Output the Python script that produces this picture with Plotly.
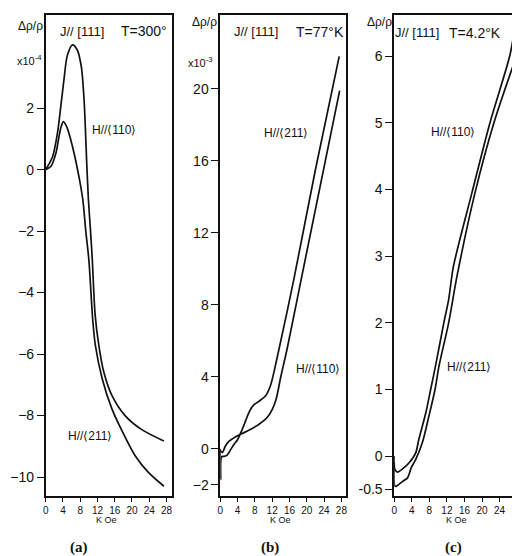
import plotly.graph_objects as go

# ---------------- data ----------------
# Panel (a)  T=300°  (units 1e-4)
a_x_110 = [0, 1.6, 2.75, 3.5, 4.3, 5.0, 6.2, 7.3, 8.26, 8.9, 9.55, 9.9, 10.4, 10.8, 11.45, 12.3, 13.5, 15.4, 18.4, 22.2, 27.4]
a_y_110 = [0, 0.42, 1.2, 2.05, 3.0, 3.7, 4.06, 3.9, 3.35, 2.27, 0.1, -0.97, -2.0, -2.92, -4.7, -5.7, -6.6, -7.36, -8.0, -8.45, -8.83]
a_x_211 = [0, 1.2, 2.4, 3.1, 3.6, 4.1, 5.0, 6.2, 7.7, 8.6, 9.3, 10.0, 10.9, 11.5, 13.1, 15.4, 17.7, 20.7, 23.8, 27.4]
a_y_211 = [0, 0.1, 0.55, 1.08, 1.4, 1.56, 1.35, 0.76, -0.22, -0.97, -2.0, -2.92, -4.87, -5.7, -6.8, -7.8, -8.5, -9.3, -9.85, -10.3]

# Panel (b)  T=77°K  (units 1e-3)
b_x_211 = [0, 0.1, 0.3, 0.9, 1.6, 2.4, 3.2, 4.0, 5.3, 6.6, 7.6, 9.0, 10.5, 11.6, 13.1, 17.0, 22.0, 27.5]
b_y_211 = [0, -1.7, -0.45, -0.42, -0.35, -0.05, 0.25, 0.5, 1.2, 2.0, 2.4, 2.65, 2.95, 3.5, 5.0, 9.4, 15.5, 21.8]
b_x_110 = [0, 0.5, 1.2, 2.06, 3.6, 5.1, 6.6, 8.9, 10.8, 12.0, 12.9, 14.0, 15.5, 18.7, 27.6]
b_y_110 = [-0.1, -0.2, 0.15, 0.42, 0.67, 0.85, 1.03, 1.35, 1.72, 2.18, 2.74, 4.0, 5.6, 9.4, 19.9]

# Panel (c)  T=4.2°K
c_x_110 = [0, 0.15, 0.75, 2.3, 3.4, 4.9, 5.6, 7.2, 8.3, 9.4, 11.3, 12.4, 13.5, 17.7, 21.8, 26.3, 27.3]
c_y_110 = [0, -0.2, -0.24, -0.17, -0.1, 0.05, 0.25, 0.65, 1.0, 1.35, 2.0, 2.35, 2.85, 3.95, 5.0, 6.0, 6.35]
c_x_211 = [0, 0.15, 0.5, 1.9, 3.0, 3.5, 3.9, 4.9, 6.4, 7.9, 9.3, 10.2, 12.4, 14.3, 18.4, 22.7, 27.3]
c_y_211 = [-0.1, -0.45, -0.45, -0.38, -0.33, -0.25, -0.17, -0.05, 0.2, 0.6, 1.0, 1.35, 2.0, 2.7, 3.95, 5.0, 5.9]

x_ticks = [0, 4, 8, 12, 16, 20, 24, 28]
a_yticks = [2, 0, -2, -4, -6, -8, -10]
b_yticks = [-2, 0, 4, 8, 12, 16, 20]
c_yticks = [-0.5, 0, 1, 2, 3, 4, 5, 6]
c_yticklabels = ["-0.5", "0", "1", "2", "3", "4", "5", "6"]

# ---------------- figure ----------------
# the page body has an 8px margin, so the figure is 512x548 placed at (8, 8)
OFF = 8
W, H = 520 - OFF, 556 - OFF
INK = "#111111"

def px(x):
    return (x - OFF) / W

def py(y):
    return 1 - (y - OFF) / H

fig = go.Figure()

line_style = dict(color=INK, width=1.7, shape="spline", smoothing=0.8)
traces = [
    (a_x_110, a_y_110, "x", "y", "H//⟨110⟩ 300°"),
    (a_x_211, a_y_211, "x", "y", "H//⟨211⟩ 300°"),
    (b_x_211, b_y_211, "x2", "y2", "H//⟨211⟩ 77°K"),
    (b_x_110, b_y_110, "x2", "y2", "H//⟨110⟩ 77°K"),
    (c_x_110, c_y_110, "x3", "y3", "H//⟨110⟩ 4.2°K"),
    (c_x_211, c_y_211, "x3", "y3", "H//⟨211⟩ 4.2°K"),
]
for xs, ys, xa, ya, nm in traces:
    fig.add_trace(go.Scatter(x=xs, y=ys, xaxis=xa, yaxis=ya, mode="lines",
                             line=line_style, name=nm, showlegend=False,
                             hoverinfo="skip"))

ydom = [py(497), py(15)]
common_x = dict(showgrid=False, zeroline=False, showline=True, linecolor=INK,
                linewidth=1.5, ticks="outside", ticklen=4, tickwidth=1.3,
                tickcolor=INK, tickvals=x_ticks,
                tickfont=dict(family="Liberation Sans", size=10, color=INK))
common_y = dict(showgrid=False, zeroline=False, showline=True, linecolor=INK,
                linewidth=1.5, ticks="outside", ticklen=7, tickwidth=1.3,
                tickcolor=INK,
                tickfont=dict(family="Liberation Sans", size=14, color=INK))

fig.update_layout(
    width=W, height=H,
    margin=dict(l=0, r=0, t=0, b=0),
    paper_bgcolor="white", plot_bgcolor="white",
    xaxis=dict(common_x, domain=[px(43), px(170.7)], range=[0, 29.3], mirror=True, anchor="y"),
    yaxis=dict(common_y, domain=ydom, range=[-10.62, 5.03], tickvals=a_yticks, mirror=True, anchor="x"),
    xaxis2=dict(common_x, domain=[px(219.3), px(346)], range=[0, 29.0], mirror=True, anchor="y2"),
    yaxis2=dict(common_y, domain=ydom, range=[-2.63, 24.1], tickvals=b_yticks, mirror=True, anchor="x2"),
    xaxis3=dict(common_x, domain=[px(395), 1.0], range=[0, 28.2], mirror=True, anchor="y3"),
    yaxis3=dict(common_y, domain=ydom, range=[-0.6, 6.62], tickvals=c_yticks,
                ticktext=c_yticklabels, mirror=False, anchor="x3"),
)

def ann(text, x, y, size=12, family="Liberation Sans", xanchor="center"):
    fig.add_annotation(text=text, x=px(x), y=py(y), xref="paper", yref="paper",
                       showarrow=False, xanchor=xanchor, yanchor="middle",
                       font=dict(family=family, size=size, color=INK))

# panel (a)
ann("Δρ/ρ", 42, 26, 12, xanchor="right")
ann("x10<sup>-4</sup>", 27, 60, 11)
ann("J// [111]", 80, 32, 13)
ann("T=300°", 142, 31, 14)
ann("H//⟨110⟩", 112, 130, 12)
ann("H//⟨211⟩", 88, 437, 12)
ann("K Oe", 104, 521, 9)
ann("<b>(a)</b>", 77, 548, 15, "Liberation Serif")

# panel (b)
ann("Δρ/ρ", 218, 22, 12, xanchor="right")
ann("x10<sup>-3</sup>", 199, 62, 11)
ann("J// [111]", 255, 32, 13)
ann("T=77°K", 320, 32, 14)
ann("H//⟨211⟩", 286, 133, 12)
ann("H//⟨110⟩", 318, 370, 12)
ann("K Oe", 280, 521, 9)
ann("<b>(b)</b>", 270, 548, 15, "Liberation Serif")

# panel (c)
ann("Δρ/ρ", 395, 22, 12, xanchor="right")
ann("J// [111]", 418, 33, 13)
ann("T=4.2°K", 477, 33, 14)
ann("H//⟨110⟩", 454, 132, 12)
ann("H//⟨211⟩", 471, 368, 12)
ann("K Oe", 458, 521, 9)
ann("<b>(c)</b>", 455, 548, 15, "Liberation Serif")

fig.write_html("out.html")
